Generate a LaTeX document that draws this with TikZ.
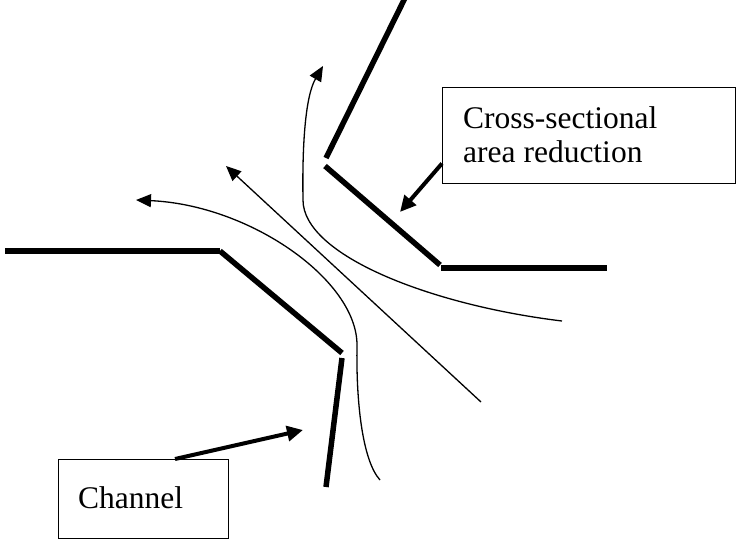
\documentclass[tikz,border=0pt]{standalone}
\usepackage{fontspec}
\setmainfont{Liberation Serif}
\usetikzlibrary{arrows.meta}
\begin{document}
\begin{tikzpicture}[x=1pt,y=-1pt,
  wall/.style={line width=5.5pt,line cap=butt},
  flow/.style={line width=1.3pt,-{Triangle[length=15pt,width=13pt]}},
  pointer/.style={line width=4pt,-{Triangle[length=16pt,width=15pt]}},
  labelbox/.style={draw,line width=1pt,rectangle,inner sep=0pt,outer sep=0pt},
  labeltext/.style={inner sep=0pt,anchor=base west,align=left,
    font=\fontsize{31.5}{34}\selectfont}]
\useasboundingbox (0,0) rectangle (737,539);

% channel walls
\draw[wall] (5,251) -- (220,251);
\draw[wall] (220,251) -- (342,353);
\draw[wall] (342,358) -- (326,487);
\draw[wall] (326,158) -- (405,-2);
\draw[wall] (325,166) -- (440,265);
\draw[wall] (441,268) -- (607,268);

% flow lines
\draw[flow] (481,402) -- (226,166);
\draw[flow] (380,480) .. controls (362,460) and (356,400) .. (357,345)
  .. controls (357,280) and (250,205) .. (136,200);
\draw[flow] (562,321) .. controls (430,305) and (303,255) .. (303,200)
  .. controls (302,140) and (306,95) .. (323,66);

% labels (the base of a two-line node is its last line)
\node[labelbox,minimum width=293pt,minimum height=96pt] (areabox) at (588.5,135) {};
\node[labeltext] (areatext) at (463,162) {Cross-sectional\\area reduction};
\node[labelbox,minimum width=170pt,minimum height=79pt] (chanbox) at (143,498.5) {};
\node[labeltext] (chantext) at (78,508) {Channel};

\coordinate (areatip) at (400,212);
\coordinate (chantip) at (303,430);
\draw[pointer] (areabox.191) -- (areatip);
\draw[pointer] (chanbox.51) -- (chantip);
\end{tikzpicture}
\end{document}
